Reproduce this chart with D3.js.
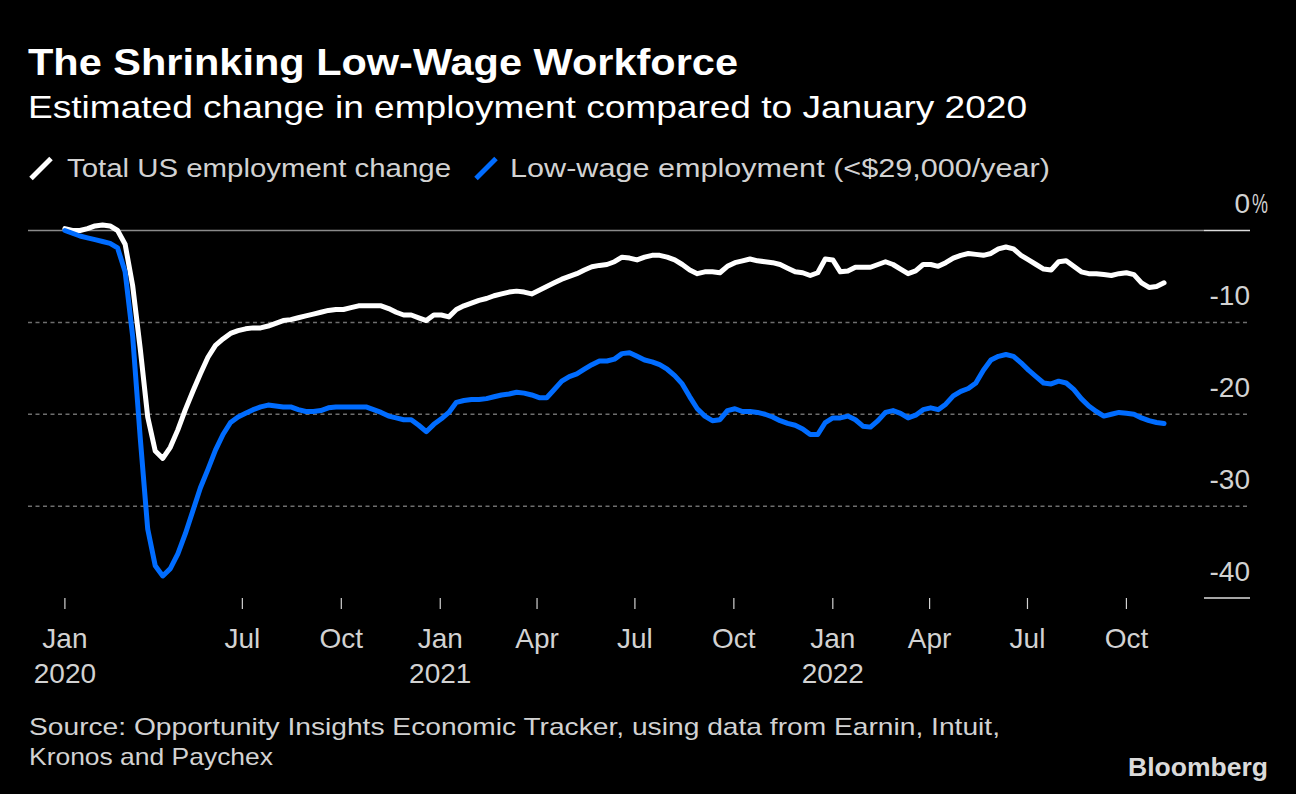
<!DOCTYPE html>
<html>
<head>
<meta charset="utf-8">
<script src="https://cdn.jsdelivr.net/npm/d3@7"></script>
<style>
  html, body { margin: 0; padding: 0; background: #000; }
  svg { display: block; }
  text { font-family: "Liberation Sans", Arial, sans-serif; }
</style>
</head>
<body>
<svg id="chart" width="1296" height="794"></svg>
<script>
// ---------- DATA (weekly, starting mid-January 2020) ----------
const startDate = "2020-01-18";

const totalEmployment = [
  0.2, 0, 0, 0.2, 0.5, 0.6, 0.5, 0, -1.5, -6.0,
  -12.8, -20.3, -24.0, -24.8, -23.6, -21.7, -19.5, -17.5, -15.6, -13.8,
  -12.5, -11.8, -11.2, -10.9, -10.7, -10.6, -10.6, -10.4, -10.1, -9.8,
  -9.7, -9.5, -9.3, -9.1, -8.9, -8.7, -8.6, -8.6, -8.4, -8.2,
  -8.2, -8.2, -8.2, -8.5, -8.9, -9.2, -9.2, -9.5, -9.8, -9.2,
  -9.2, -9.4, -8.6, -8.2, -7.9, -7.6, -7.4, -7.1, -6.9, -6.7,
  -6.6, -6.7, -6.9, -6.5, -6.1, -5.7, -5.3, -5.0, -4.7, -4.3,
  -3.95, -3.8, -3.7, -3.4, -2.9, -3.0, -3.2, -2.9, -2.7, -2.7,
  -2.9, -3.2, -3.7, -4.3, -4.7, -4.5, -4.5, -4.6, -3.9, -3.5,
  -3.3, -3.1, -3.3, -3.4, -3.5, -3.7, -4.1, -4.5, -4.6, -4.9,
  -4.6, -3.1, -3.2, -4.5, -4.4, -4.0, -4.0, -4.0, -3.7, -3.4,
  -3.7, -4.2, -4.7, -4.4, -3.7, -3.7, -3.9, -3.5, -3.0, -2.7,
  -2.5, -2.6, -2.7, -2.5, -2.0, -1.8, -2.0, -2.7, -3.2, -3.7,
  -4.2, -4.3, -3.4, -3.3, -3.9, -4.5, -4.7, -4.7, -4.8, -4.9,
  -4.7, -4.6, -4.8, -5.7, -6.2, -6.1, -5.7
];

const lowWageEmployment = [
  0, -0.3, -0.6, -0.8, -1.0, -1.2, -1.4, -1.9, -4.5, -11.5,
  -22.5, -32.5, -36.5, -37.6, -36.8, -35.2, -33.0, -30.5, -28.0, -26.0,
  -23.9, -22.2, -20.9, -20.3, -19.9, -19.5, -19.2, -19.0, -19.1, -19.2,
  -19.2, -19.5, -19.7, -19.7, -19.6, -19.3, -19.2, -19.2, -19.2, -19.2,
  -19.2, -19.5, -19.8, -20.2, -20.4, -20.6, -20.6, -21.2, -21.9, -21.1,
  -20.5, -19.8, -18.7, -18.5, -18.4, -18.4, -18.3, -18.1, -17.9, -17.8,
  -17.6, -17.7, -17.9, -18.2, -18.2, -17.3, -16.4, -15.9, -15.6, -15.1,
  -14.6, -14.2, -14.2, -14.0, -13.4, -13.3, -13.7, -14.1, -14.3, -14.6,
  -15.1, -15.8, -16.7, -18.1, -19.4, -20.2, -20.7, -20.6, -19.6, -19.4,
  -19.7, -19.7, -19.8, -20.0, -20.3, -20.7, -21.0, -21.2, -21.6, -22.2,
  -22.2, -20.9, -20.4, -20.4, -20.2, -20.6, -21.3, -21.4, -20.7, -19.8,
  -19.6, -19.9, -20.4, -20.1, -19.5, -19.3, -19.5, -18.9, -18.0, -17.5,
  -17.2, -16.6, -15.2, -14.1, -13.7, -13.5, -13.7, -14.4, -15.2, -15.9,
  -16.6, -16.7, -16.4, -16.6, -17.3, -18.3, -19.1, -19.7, -20.2, -20.0,
  -19.8, -19.9, -20.0, -20.4, -20.7, -20.9, -21.0
];

const tickDates = ["2020-01-18", "2020-07-01", "2020-10-01", "2021-01-01", "2021-04-01",
  "2021-07-01", "2021-10-01", "2022-01-01", "2022-04-01", "2022-07-01", "2022-10-01"];
const tickMonths = ["Jan", "Jul", "Oct", "Jan", "Apr", "Jul", "Oct", "Jan", "Apr", "Jul", "Oct"];
const tickYears  = ["2020", "", "", "2021", "", "", "", "2022", "", "", ""];

const yTicks = [0, -10, -20, -30, -40];
const yTickLabels = ["0", "-10", "-20", "-30", "-40"];

const titleText = "The Shrinking Low-Wage Workforce";
const subtitleText = "Estimated change in employment compared to January 2020";
const legendLabels = ["Total US employment change", "Low-wage employment (<$29,000/year)"];
const sourceLines = ["Source: Opportunity Insights Economic Tracker, using data from Earnin, Intuit,",
  "Kronos and Paychex"];

// ---------- SETUP ----------
const WHITE = "#ffffff";
const BLUE = "#006cff";
const LABEL = "#d2d2d2";

const svg = d3.select("#chart");
svg.append("rect").attr("width", 1296).attr("height", 794).attr("fill", "#000");

const parse = d3.utcParse("%Y-%m-%d");
const start = parse(startDate);
const dates = totalEmployment.map((_, i) => d3.utcDay.offset(start, 7 * i));
const end = dates[dates.length - 1];

const x = d3.scaleUtc().domain([start, end]).range([64.9, 64.9 + d3.utcDay.count(start, end) * 1.0755]);
const y = d3.scaleLinear().domain([0, -40]).range([230.5, 598]);

const plotLeft = 28, plotRight = 1204, axisRight = 1250;

// ---------- TITLES ----------
svg.append("text").attr("x", 28).attr("y", 75)
  .attr("fill", WHITE).attr("font-size", 37).attr("font-weight", "bold")
  .attr("textLength", 710).attr("lengthAdjust", "spacingAndGlyphs")
  .text(titleText);
svg.append("text").attr("x", 28).attr("y", 118)
  .attr("fill", WHITE).attr("font-size", 32)
  .attr("textLength", 999).attr("lengthAdjust", "spacingAndGlyphs")
  .text(subtitleText);

// ---------- LEGEND ----------
const legend = [
  { color: WHITE, sx: 31, tx: 67, w: 384 },
  { color: BLUE, sx: 476, tx: 510, w: 540 }
];
legend.forEach((l, i) => {
  svg.append("line")
    .attr("x1", l.sx).attr("y1", 178.5).attr("x2", l.sx + 20).attr("y2", 158.5)
    .attr("stroke", l.color).attr("stroke-width", 5);
  svg.append("text").attr("x", l.tx).attr("y", 177)
    .attr("fill", LABEL).attr("font-size", 26)
    .attr("textLength", l.w).attr("lengthAdjust", "spacingAndGlyphs")
    .text(legendLabels[i]);
});

// ---------- GRID & Y AXIS ----------
yTicks.forEach((t, i) => {
  const yy = y(t);
  if (t === 0) {
    svg.append("line").attr("x1", plotLeft).attr("x2", plotRight).attr("y1", yy).attr("y2", yy)
      .attr("stroke", "#8a8a8a").attr("stroke-width", 1.5);
    svg.append("line").attr("x1", plotRight).attr("x2", axisRight).attr("y1", yy).attr("y2", yy)
      .attr("stroke", "#dcdcdc").attr("stroke-width", 1.5);
  } else if (t === -40) {
    svg.append("line").attr("x1", plotRight).attr("x2", axisRight).attr("y1", yy).attr("y2", yy)
      .attr("stroke", "#dcdcdc").attr("stroke-width", 1.5);
  } else {
    svg.append("line").attr("x1", plotLeft).attr("x2", axisRight).attr("y1", yy).attr("y2", yy)
      .attr("stroke", "#6e6e6e").attr("stroke-width", 1.5).attr("stroke-dasharray", "4,3.5");
  }
  svg.append("text").attr("x", axisRight).attr("y", yy - 17.5)
    .attr("text-anchor", "end").attr("fill", LABEL).attr("font-size", 28)
    .text(yTickLabels[i]);
  if (t === 0) {
    svg.append("text").attr("x", 1252).attr("y", yy - 17.5)
      .attr("fill", LABEL).attr("font-size", 27)
      .attr("textLength", 16).attr("lengthAdjust", "spacingAndGlyphs")
      .text("%");
  }
});

// ---------- X AXIS ----------
tickDates.forEach((d, i) => {
  const xx = x(parse(d));
  svg.append("line").attr("x1", xx).attr("x2", xx).attr("y1", 598).attr("y2", 609)
    .attr("stroke", LABEL).attr("stroke-width", 1.2);
  svg.append("text").attr("x", xx).attr("y", 648).attr("text-anchor", "middle")
    .attr("fill", LABEL).attr("font-size", 28).text(tickMonths[i]);
  if (tickYears[i]) {
    svg.append("text").attr("x", xx).attr("y", 683).attr("text-anchor", "middle")
      .attr("fill", LABEL).attr("font-size", 28).text(tickYears[i]);
  }
});

// ---------- LINES ----------
const line = d3.line().x((d, i) => x(dates[i])).y(d => y(d)).curve(d3.curveLinear);
svg.append("path").datum(totalEmployment).attr("d", line)
  .attr("fill", "none").attr("stroke", WHITE).attr("stroke-width", 5)
  .attr("stroke-linejoin", "round").attr("stroke-linecap", "round");
svg.append("path").datum(lowWageEmployment).attr("d", line)
  .attr("fill", "none").attr("stroke", BLUE).attr("stroke-width", 5)
  .attr("stroke-linejoin", "round").attr("stroke-linecap", "round");

// ---------- SOURCE & LOGO ----------
svg.append("text").attr("x", 29).attr("y", 735).attr("fill", LABEL).attr("font-size", 24)
  .attr("textLength", 971).attr("lengthAdjust", "spacingAndGlyphs").text(sourceLines[0]);
svg.append("text").attr("x", 29).attr("y", 765).attr("fill", LABEL).attr("font-size", 24)
  .attr("textLength", 244).attr("lengthAdjust", "spacingAndGlyphs").text(sourceLines[1]);
svg.append("text").attr("x", 1128).attr("y", 776).attr("fill", "#dadada").attr("font-size", 26)
  .attr("font-weight", "bold").attr("textLength", 140).attr("lengthAdjust", "spacingAndGlyphs")
  .text("Bloomberg");
</script>
</body>
</html>
